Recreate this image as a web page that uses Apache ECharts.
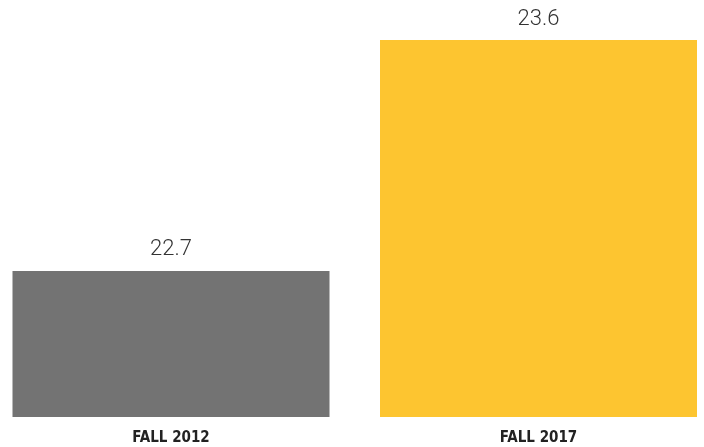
<!DOCTYPE html>
<html><head><meta charset="utf-8">
<script src="https://cdn.jsdelivr.net/npm/echarts@6/dist/echarts.min.js"></script>
<style>html,body{margin:0;padding:0;background:#fff}#c{width:704px;height:447px}</style>
</head><body><div id="c"></div>
<script>
const categories = ['FALL 2012', 'FALL 2017'];
const values = [22.7, 23.6];
const colors = ['#737373', '#FDC530'];

const chart = echarts.init(document.getElementById('c'), null, {renderer: 'canvas'});
chart.setOption({
  animation: false,
  grid: {left: 171, right: 165.5, top: 40, bottom: 30},
  xAxis: {
    type: 'category', data: categories, boundaryGap: false,
    axisLine: {show: false}, axisTick: {show: false},
    axisLabel: {color: '#222', fontFamily: 'Liberation Sans Narrow, DejaVu Sans Condensed, sans-serif', fontWeight: 'bold', fontSize: 15, margin: 14}
  },
  yAxis: {type: 'value', min: 22.131, max: 23.6, show: false, splitLine: {show: false}},
  series: [{
    type: 'bar', barWidth: 317,
    data: values.map((v, i) => ({value: v, itemStyle: {color: colors[i]}})),
    label: {show: true, position: 'top', distance: 10, color: '#333', fontFamily: 'Roboto', fontWeight: 300, fontSize: 22}
  }]
});
</script></body></html>
